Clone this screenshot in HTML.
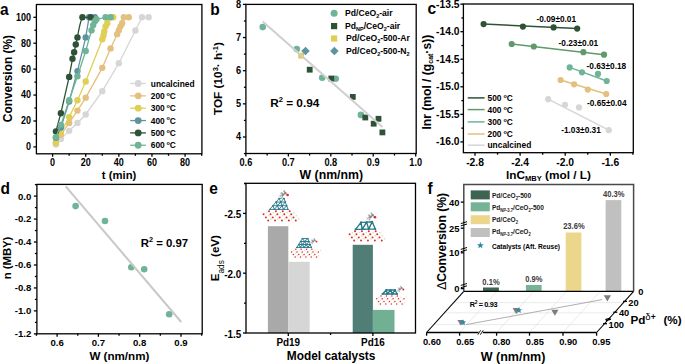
<!DOCTYPE html>
<html><head><meta charset="utf-8"><style>
html,body{margin:0;padding:0;background:#fff;}
svg{display:block;}
text{font-family:"Liberation Sans", sans-serif;}
</style></head><body>
<svg width="685" height="364" viewBox="0 0 685 364" font-family='"Liberation Sans", sans-serif'>
<rect width="685" height="364" fill="#fff"/>
<path d="M55.91,144.57 L60.88,139.12 L69.16,130.83 L77.44,122.92 L85.72,114.50 L102.28,91.17 L118.84,63.31 L135.40,30.52 L142.02,17.30 L148.65,17.30" fill="none" stroke="#d6d6d6" stroke-width="1.3"/>
<circle cx="55.91" cy="144.57" r="3.2" fill="#d6d6d6"/>
<circle cx="60.88" cy="139.12" r="3.2" fill="#d6d6d6"/>
<circle cx="69.16" cy="130.83" r="3.2" fill="#d6d6d6"/>
<circle cx="77.44" cy="122.92" r="3.2" fill="#d6d6d6"/>
<circle cx="85.72" cy="114.50" r="3.2" fill="#d6d6d6"/>
<circle cx="102.28" cy="91.17" r="3.2" fill="#d6d6d6"/>
<circle cx="118.84" cy="63.31" r="3.2" fill="#d6d6d6"/>
<circle cx="135.40" cy="30.52" r="3.2" fill="#d6d6d6"/>
<circle cx="142.02" cy="17.30" r="3.2" fill="#d6d6d6"/>
<circle cx="148.65" cy="17.30" r="3.2" fill="#d6d6d6"/>
<path d="M55.91,143.01 L60.88,134.59 L69.16,122.92 L77.44,110.61 L85.72,97.65 L102.28,67.84 L110.56,48.40 L117.18,34.15 L118.84,30.26 L120.50,26.37 L122.15,23.13 L123.81,17.30 L128.78,17.30" fill="none" stroke="#e4c07f" stroke-width="1.3"/>
<circle cx="55.91" cy="143.01" r="3.2" fill="#e4c07f"/>
<circle cx="60.88" cy="134.59" r="3.2" fill="#e4c07f"/>
<circle cx="69.16" cy="122.92" r="3.2" fill="#e4c07f"/>
<circle cx="77.44" cy="110.61" r="3.2" fill="#e4c07f"/>
<circle cx="85.72" cy="97.65" r="3.2" fill="#e4c07f"/>
<circle cx="102.28" cy="67.84" r="3.2" fill="#e4c07f"/>
<circle cx="110.56" cy="48.40" r="3.2" fill="#e4c07f"/>
<circle cx="117.18" cy="34.15" r="3.2" fill="#e4c07f"/>
<circle cx="118.84" cy="30.26" r="3.2" fill="#e4c07f"/>
<circle cx="120.50" cy="26.37" r="3.2" fill="#e4c07f"/>
<circle cx="122.15" cy="23.13" r="3.2" fill="#e4c07f"/>
<circle cx="123.81" cy="17.30" r="3.2" fill="#e4c07f"/>
<circle cx="128.78" cy="17.30" r="3.2" fill="#e4c07f"/>
<path d="M55.91,142.36 L60.88,132.64 L69.16,117.09 L77.44,100.24 L85.72,81.45 L102.28,39.33 L103.44,35.44 L104.27,31.56 L105.59,26.37 L107.25,23.13 L110.56,17.30 L113.21,17.30" fill="none" stroke="#e0cf55" stroke-width="1.3"/>
<circle cx="55.91" cy="142.36" r="3.2" fill="#e0cf55"/>
<circle cx="60.88" cy="132.64" r="3.2" fill="#e0cf55"/>
<circle cx="69.16" cy="117.09" r="3.2" fill="#e0cf55"/>
<circle cx="77.44" cy="100.24" r="3.2" fill="#e0cf55"/>
<circle cx="85.72" cy="81.45" r="3.2" fill="#e0cf55"/>
<circle cx="102.28" cy="39.33" r="3.2" fill="#e0cf55"/>
<circle cx="103.44" cy="35.44" r="3.2" fill="#e0cf55"/>
<circle cx="104.27" cy="31.56" r="3.2" fill="#e0cf55"/>
<circle cx="105.59" cy="26.37" r="3.2" fill="#e0cf55"/>
<circle cx="107.25" cy="23.13" r="3.2" fill="#e0cf55"/>
<circle cx="110.56" cy="17.30" r="3.2" fill="#e0cf55"/>
<circle cx="113.21" cy="17.30" r="3.2" fill="#e0cf55"/>
<path d="M55.91,137.83 L60.88,127.46 L69.16,101.54 L77.44,71.08 L85.72,37.39 L89.03,17.30 L94.83,17.30" fill="none" stroke="#5e93a0" stroke-width="1.3"/>
<circle cx="55.91" cy="137.83" r="3.2" fill="#5e93a0"/>
<circle cx="60.88" cy="127.46" r="3.2" fill="#5e93a0"/>
<circle cx="69.16" cy="101.54" r="3.2" fill="#5e93a0"/>
<circle cx="77.44" cy="71.08" r="3.2" fill="#5e93a0"/>
<circle cx="85.72" cy="37.39" r="3.2" fill="#5e93a0"/>
<circle cx="89.03" cy="17.30" r="3.2" fill="#5e93a0"/>
<circle cx="94.83" cy="17.30" r="3.2" fill="#5e93a0"/>
<path d="M55.91,131.35 L60.88,113.20 L69.16,76.92 L72.47,58.77 L74.13,52.29 L75.78,44.52 L77.44,37.39 Q79.92,22.48 82.41,17.30 L90.69,17.30" fill="none" stroke="#2f5237" stroke-width="1.3"/>
<circle cx="55.91" cy="131.35" r="3.2" fill="#2f5237"/>
<circle cx="60.88" cy="113.20" r="3.2" fill="#2f5237"/>
<circle cx="69.16" cy="76.92" r="3.2" fill="#2f5237"/>
<circle cx="72.47" cy="58.77" r="3.2" fill="#2f5237"/>
<circle cx="74.13" cy="52.29" r="3.2" fill="#2f5237"/>
<circle cx="75.78" cy="44.52" r="3.2" fill="#2f5237"/>
<circle cx="77.44" cy="37.39" r="3.2" fill="#2f5237"/>
<circle cx="82.41" cy="17.30" r="3.2" fill="#2f5237"/>
<circle cx="90.69" cy="17.30" r="3.2" fill="#2f5237"/>
<path d="M55.91,137.18 L60.88,124.87 L69.16,100.24 L77.44,76.27 L85.72,51.00 L91.52,30.26 L93.17,25.08 L94.83,21.19 L96.48,19.24 L105.59,17.30 L110.56,17.30" fill="none" stroke="#6fb497" stroke-width="1.3"/>
<circle cx="55.91" cy="137.18" r="3.2" fill="#6fb497"/>
<circle cx="60.88" cy="124.87" r="3.2" fill="#6fb497"/>
<circle cx="69.16" cy="100.24" r="3.2" fill="#6fb497"/>
<circle cx="77.44" cy="76.27" r="3.2" fill="#6fb497"/>
<circle cx="85.72" cy="51.00" r="3.2" fill="#6fb497"/>
<circle cx="91.52" cy="30.26" r="3.2" fill="#6fb497"/>
<circle cx="93.17" cy="25.08" r="3.2" fill="#6fb497"/>
<circle cx="94.83" cy="21.19" r="3.2" fill="#6fb497"/>
<circle cx="96.48" cy="19.24" r="3.2" fill="#6fb497"/>
<circle cx="105.59" cy="17.30" r="3.2" fill="#6fb497"/>
<circle cx="110.56" cy="17.30" r="3.2" fill="#6fb497"/>
<line x1="130.20" y1="83.50" x2="145.90" y2="83.50" stroke="#d6d6d6" stroke-width="1.3"/>
<circle cx="138.20" cy="83.50" r="3.4" fill="#d6d6d6"/>
<text x="150.80" y="86.60" font-size="8.4" text-anchor="start" font-weight="bold" fill="#000">uncalcined</text>
<line x1="130.20" y1="95.85" x2="145.90" y2="95.85" stroke="#e4c07f" stroke-width="1.3"/>
<circle cx="138.20" cy="95.85" r="3.4" fill="#e4c07f"/>
<text x="150.8" y="98.95" font-size="8.4" font-weight="bold">200<tspan font-size="5.5" dx="1.6" dy="-3.2">o</tspan><tspan dy="3.2">C</tspan></text>
<line x1="130.20" y1="108.20" x2="145.90" y2="108.20" stroke="#e0cf55" stroke-width="1.3"/>
<circle cx="138.20" cy="108.20" r="3.4" fill="#e0cf55"/>
<text x="150.8" y="111.30" font-size="8.4" font-weight="bold">300<tspan font-size="5.5" dx="1.6" dy="-3.2">o</tspan><tspan dy="3.2">C</tspan></text>
<line x1="130.20" y1="120.55" x2="145.90" y2="120.55" stroke="#5e93a0" stroke-width="1.3"/>
<circle cx="138.20" cy="120.55" r="3.4" fill="#5e93a0"/>
<text x="150.8" y="123.65" font-size="8.4" font-weight="bold">400<tspan font-size="5.5" dx="1.6" dy="-3.2">o</tspan><tspan dy="3.2">C</tspan></text>
<line x1="130.20" y1="132.90" x2="145.90" y2="132.90" stroke="#2f5237" stroke-width="1.3"/>
<circle cx="138.20" cy="132.90" r="3.4" fill="#2f5237"/>
<text x="150.8" y="136.00" font-size="8.4" font-weight="bold">500<tspan font-size="5.5" dx="1.6" dy="-3.2">o</tspan><tspan dy="3.2">C</tspan></text>
<line x1="130.20" y1="145.25" x2="145.90" y2="145.25" stroke="#6fb497" stroke-width="1.3"/>
<circle cx="138.20" cy="145.25" r="3.4" fill="#6fb497"/>
<text x="150.8" y="148.35" font-size="8.4" font-weight="bold">600<tspan font-size="5.5" dx="1.6" dy="-3.2">o</tspan><tspan dy="3.2">C</tspan></text>
<rect x="36.40" y="4.50" width="165.50" height="149.30" fill="none" stroke="#000" stroke-width="1.3"/>
<line x1="33.40" y1="146.90" x2="36.40" y2="146.90" stroke="#000" stroke-width="1.3"/>
<text transform="translate(31.00 150.30) scale(1 1.13)" font-size="9.0" text-anchor="end" font-weight="bold" fill="#000">0</text>
<line x1="34.40" y1="133.94" x2="36.40" y2="133.94" stroke="#000" stroke-width="1.3"/>
<line x1="33.40" y1="120.98" x2="36.40" y2="120.98" stroke="#000" stroke-width="1.3"/>
<text transform="translate(31.00 124.38) scale(1 1.13)" font-size="9.0" text-anchor="end" font-weight="bold" fill="#000">20</text>
<line x1="34.40" y1="108.02" x2="36.40" y2="108.02" stroke="#000" stroke-width="1.3"/>
<line x1="33.40" y1="95.06" x2="36.40" y2="95.06" stroke="#000" stroke-width="1.3"/>
<text transform="translate(31.00 98.46) scale(1 1.13)" font-size="9.0" text-anchor="end" font-weight="bold" fill="#000">40</text>
<line x1="34.40" y1="82.10" x2="36.40" y2="82.10" stroke="#000" stroke-width="1.3"/>
<line x1="33.40" y1="69.14" x2="36.40" y2="69.14" stroke="#000" stroke-width="1.3"/>
<text transform="translate(31.00 72.54) scale(1 1.13)" font-size="9.0" text-anchor="end" font-weight="bold" fill="#000">60</text>
<line x1="34.40" y1="56.18" x2="36.40" y2="56.18" stroke="#000" stroke-width="1.3"/>
<line x1="33.40" y1="43.22" x2="36.40" y2="43.22" stroke="#000" stroke-width="1.3"/>
<text transform="translate(31.00 46.62) scale(1 1.13)" font-size="9.0" text-anchor="end" font-weight="bold" fill="#000">80</text>
<line x1="34.40" y1="30.26" x2="36.40" y2="30.26" stroke="#000" stroke-width="1.3"/>
<line x1="33.40" y1="17.30" x2="36.40" y2="17.30" stroke="#000" stroke-width="1.3"/>
<text transform="translate(31.00 20.70) scale(1 1.13)" font-size="9.0" text-anchor="end" font-weight="bold" fill="#000">100</text>
<line x1="52.60" y1="153.80" x2="52.60" y2="156.80" stroke="#000" stroke-width="1.3"/>
<text transform="translate(52.60 166.20) scale(1 1.13)" font-size="9.0" text-anchor="middle" font-weight="bold" fill="#000">0</text>
<line x1="69.16" y1="153.80" x2="69.16" y2="155.80" stroke="#000" stroke-width="1.3"/>
<line x1="85.72" y1="153.80" x2="85.72" y2="156.80" stroke="#000" stroke-width="1.3"/>
<text transform="translate(85.72 166.20) scale(1 1.13)" font-size="9.0" text-anchor="middle" font-weight="bold" fill="#000">20</text>
<line x1="102.28" y1="153.80" x2="102.28" y2="155.80" stroke="#000" stroke-width="1.3"/>
<line x1="118.84" y1="153.80" x2="118.84" y2="156.80" stroke="#000" stroke-width="1.3"/>
<text transform="translate(118.84 166.20) scale(1 1.13)" font-size="9.0" text-anchor="middle" font-weight="bold" fill="#000">40</text>
<line x1="135.40" y1="153.80" x2="135.40" y2="155.80" stroke="#000" stroke-width="1.3"/>
<line x1="151.96" y1="153.80" x2="151.96" y2="156.80" stroke="#000" stroke-width="1.3"/>
<text transform="translate(151.96 166.20) scale(1 1.13)" font-size="9.0" text-anchor="middle" font-weight="bold" fill="#000">60</text>
<line x1="168.52" y1="153.80" x2="168.52" y2="155.80" stroke="#000" stroke-width="1.3"/>
<line x1="185.08" y1="153.80" x2="185.08" y2="156.80" stroke="#000" stroke-width="1.3"/>
<text transform="translate(185.08 166.20) scale(1 1.13)" font-size="9.0" text-anchor="middle" font-weight="bold" fill="#000">80</text>
<line x1="201.64" y1="153.80" x2="201.64" y2="155.80" stroke="#000" stroke-width="1.3"/>
<text x="119.10" y="178.80" font-size="11.3" text-anchor="middle" font-weight="bold" fill="#000">t (min)</text>
<text transform="translate(12.00 78.60) rotate(-90)" font-size="11.9" text-anchor="middle" font-weight="bold" fill="#000">Conversion (%)</text>
<text transform="translate(0.00 14.80) scale(1 1.1)" font-size="15.5" text-anchor="start" font-weight="bold" fill="#000">a</text>
<circle cx="262.70" cy="27.10" r="3.3" fill="#6fb497"/>
<circle cx="296.80" cy="49.10" r="3.3" fill="#6fb497"/>
<rect x="298.20" y="52.80" width="5.80" height="5.80" fill="#e0cf55"/>
<rect x="302.50" y="48.00" width="6" height="6" fill="#5e93a0" transform="rotate(45 305.5 51)"/>
<rect x="306.80" y="66.80" width="5.80" height="5.80" fill="#2f5237"/>
<circle cx="322.20" cy="77.80" r="3.3" fill="#6fb497"/>
<circle cx="335.70" cy="78.70" r="3.3" fill="#6fb497"/>
<rect x="328.40" y="75.60" width="5.80" height="5.80" fill="#2f5237"/>
<rect x="349.90" y="94.00" width="5.80" height="5.80" fill="#2f5237"/>
<circle cx="360.90" cy="114.90" r="3.3" fill="#6fb497"/>
<rect x="362.40" y="114.60" width="5.80" height="5.80" fill="#2f5237"/>
<rect x="375.60" y="115.90" width="5.80" height="5.80" fill="#2f5237"/>
<rect x="370.80" y="120.80" width="5.80" height="5.80" fill="#2f5237"/>
<rect x="379.50" y="129.50" width="5.80" height="5.80" fill="#2f5237"/>
<line x1="262.70" y1="21.40" x2="382.40" y2="126.90" stroke="#cfcfcf" stroke-width="2.0"/>
<circle cx="334.10" cy="13.30" r="3.5" fill="#6fb497"/>
<rect x="331.00" y="23.00" width="6.20" height="6.20" fill="#2f5237"/>
<rect x="331.00" y="35.40" width="6.20" height="6.20" fill="#e0cf55"/>
<rect x="331.40" y="48.10" width="6" height="6" fill="#5e93a0" transform="rotate(45 334.4 51.1)"/>
<text x="345.1" y="16.4" font-size="8.6" font-weight="bold">Pd/CeO<tspan font-size="5.5" dy="2">2</tspan><tspan dy="-2">-air</tspan></text>
<text x="345.1" y="29.2" font-size="8.6" font-weight="bold">Pd<tspan font-size="5.5" dy="2">NP</tspan><tspan dy="-2">/CeO</tspan><tspan font-size="5.5" dy="2">2</tspan><tspan dy="-2">-air</tspan></text>
<text x="346.1" y="41.3" font-size="8.6" font-weight="bold">Pd/CeO<tspan font-size="5.5" dy="2">2</tspan><tspan dy="-2">-500-Ar</tspan></text>
<text x="346.1" y="54.1" font-size="8.6" font-weight="bold">Pd/CeO<tspan font-size="5.5" dy="2">2</tspan><tspan dy="-2">-500-N</tspan><tspan font-size="5.5" dy="2">2</tspan><tspan dy="-2"></tspan></text>
<text x="270.2" y="107.4" font-size="11.8" font-weight="bold">R<tspan font-size="7.5" dy="-5.3">2</tspan><tspan dy="5.3"> = 0.94</tspan></text>
<rect x="245.90" y="4.40" width="170.30" height="149.10" fill="none" stroke="#000" stroke-width="1.3"/>
<line x1="243.90" y1="153.57" x2="245.90" y2="153.57" stroke="#000" stroke-width="1.3"/>
<line x1="242.90" y1="137.00" x2="245.90" y2="137.00" stroke="#000" stroke-width="1.3"/>
<text transform="translate(241.00 140.40) scale(1 1.12)" font-size="9.2" text-anchor="end" font-weight="bold" fill="#000">4</text>
<line x1="243.90" y1="120.42" x2="245.90" y2="120.42" stroke="#000" stroke-width="1.3"/>
<line x1="242.90" y1="103.85" x2="245.90" y2="103.85" stroke="#000" stroke-width="1.3"/>
<text transform="translate(241.00 107.25) scale(1 1.12)" font-size="9.2" text-anchor="end" font-weight="bold" fill="#000">5</text>
<line x1="243.90" y1="87.28" x2="245.90" y2="87.28" stroke="#000" stroke-width="1.3"/>
<line x1="242.90" y1="70.70" x2="245.90" y2="70.70" stroke="#000" stroke-width="1.3"/>
<text transform="translate(241.00 74.10) scale(1 1.12)" font-size="9.2" text-anchor="end" font-weight="bold" fill="#000">6</text>
<line x1="243.90" y1="54.12" x2="245.90" y2="54.12" stroke="#000" stroke-width="1.3"/>
<line x1="242.90" y1="37.55" x2="245.90" y2="37.55" stroke="#000" stroke-width="1.3"/>
<text transform="translate(241.00 40.95) scale(1 1.12)" font-size="9.2" text-anchor="end" font-weight="bold" fill="#000">7</text>
<line x1="243.90" y1="20.98" x2="245.90" y2="20.98" stroke="#000" stroke-width="1.3"/>
<line x1="242.90" y1="4.40" x2="245.90" y2="4.40" stroke="#000" stroke-width="1.3"/>
<text transform="translate(241.00 7.80) scale(1 1.12)" font-size="9.2" text-anchor="end" font-weight="bold" fill="#000">8</text>
<line x1="245.90" y1="153.50" x2="245.90" y2="156.50" stroke="#000" stroke-width="1.3"/>
<text transform="translate(245.90 166.20) scale(1 1.12)" font-size="9.2" text-anchor="middle" font-weight="bold" fill="#000">0.6</text>
<line x1="267.12" y1="153.50" x2="267.12" y2="155.50" stroke="#000" stroke-width="1.3"/>
<line x1="288.35" y1="153.50" x2="288.35" y2="156.50" stroke="#000" stroke-width="1.3"/>
<text transform="translate(288.35 166.20) scale(1 1.12)" font-size="9.2" text-anchor="middle" font-weight="bold" fill="#000">0.7</text>
<line x1="309.58" y1="153.50" x2="309.58" y2="155.50" stroke="#000" stroke-width="1.3"/>
<line x1="330.80" y1="153.50" x2="330.80" y2="156.50" stroke="#000" stroke-width="1.3"/>
<text transform="translate(330.80 166.20) scale(1 1.12)" font-size="9.2" text-anchor="middle" font-weight="bold" fill="#000">0.8</text>
<line x1="352.02" y1="153.50" x2="352.02" y2="155.50" stroke="#000" stroke-width="1.3"/>
<line x1="373.25" y1="153.50" x2="373.25" y2="156.50" stroke="#000" stroke-width="1.3"/>
<text transform="translate(373.25 166.20) scale(1 1.12)" font-size="9.2" text-anchor="middle" font-weight="bold" fill="#000">0.9</text>
<line x1="394.48" y1="153.50" x2="394.48" y2="155.50" stroke="#000" stroke-width="1.3"/>
<line x1="415.70" y1="153.50" x2="415.70" y2="156.50" stroke="#000" stroke-width="1.3"/>
<text transform="translate(415.70 166.20) scale(1 1.12)" font-size="9.2" text-anchor="middle" font-weight="bold" fill="#000">1.0</text>
<text x="331.30" y="179.00" font-size="12.3" text-anchor="middle" font-weight="bold" fill="#000">W (nm/nm)</text>
<text x="222.2" y="78.6" font-size="11.8" font-weight="bold" text-anchor="middle" transform="rotate(-90 222.2 78.6)">TOF (10<tspan font-size="7.5" dy="-4.5">3</tspan><tspan dy="4.5">· h</tspan><tspan font-size="7.5" dy="-4.5">-1</tspan><tspan dy="4.5">)</tspan></text>
<text transform="translate(210.30 14.80) scale(1 1.1)" font-size="15.5" text-anchor="start" font-weight="bold" fill="#000">b</text>
<line x1="483.60" y1="24.10" x2="577.20" y2="28.60" stroke="#2f5237" stroke-width="1.5"/>
<circle cx="483.60" cy="24.10" r="3.1" fill="#2f5237"/>
<circle cx="522.90" cy="26.60" r="3.1" fill="#2f5237"/>
<circle cx="553.60" cy="27.40" r="3.1" fill="#2f5237"/>
<circle cx="577.20" cy="28.60" r="3.1" fill="#2f5237"/>
<line x1="511.70" y1="44.00" x2="604.00" y2="54.70" stroke="#5e9a6c" stroke-width="1.5"/>
<circle cx="511.70" cy="44.00" r="3.1" fill="#5e9a6c"/>
<circle cx="533.80" cy="46.50" r="3.1" fill="#5e9a6c"/>
<circle cx="583.40" cy="52.20" r="3.1" fill="#5e9a6c"/>
<circle cx="604.00" cy="54.70" r="3.1" fill="#5e9a6c"/>
<line x1="569.70" y1="67.40" x2="606.70" y2="81.00" stroke="#6fb497" stroke-width="1.5"/>
<circle cx="569.70" cy="67.40" r="3.1" fill="#6fb497"/>
<circle cx="582.00" cy="72.30" r="3.1" fill="#6fb497"/>
<circle cx="598.00" cy="73.90" r="3.1" fill="#6fb497"/>
<circle cx="606.70" cy="81.00" r="3.1" fill="#6fb497"/>
<line x1="560.60" y1="80.00" x2="606.20" y2="94.00" stroke="#e4c07f" stroke-width="1.5"/>
<circle cx="560.60" cy="80.00" r="3.1" fill="#e4c07f"/>
<circle cx="574.10" cy="84.30" r="3.1" fill="#e4c07f"/>
<circle cx="587.80" cy="89.60" r="3.1" fill="#e4c07f"/>
<circle cx="606.20" cy="94.00" r="3.1" fill="#e4c07f"/>
<line x1="548.20" y1="99.20" x2="608.80" y2="130.20" stroke="#d6d6d6" stroke-width="1.5"/>
<circle cx="548.20" cy="99.20" r="3.1" fill="#d6d6d6"/>
<circle cx="565.00" cy="104.80" r="3.1" fill="#d6d6d6"/>
<circle cx="579.00" cy="107.40" r="3.1" fill="#d6d6d6"/>
<circle cx="608.80" cy="130.20" r="3.1" fill="#d6d6d6"/>
<text transform="translate(536.50 22.00) scale(1 1.07)" font-size="8.3" text-anchor="start" font-weight="bold" fill="#000">-0.09±0.01</text>
<text transform="translate(558.60 46.30) scale(1 1.07)" font-size="8.3" text-anchor="start" font-weight="bold" fill="#000">-0.23±0.01</text>
<text transform="translate(586.60 68.80) scale(1 1.07)" font-size="8.3" text-anchor="start" font-weight="bold" fill="#000">-0.63±0.18</text>
<text transform="translate(587.00 106.40) scale(1 1.07)" font-size="8.3" text-anchor="start" font-weight="bold" fill="#000">-0.65±0.04</text>
<text transform="translate(561.20 133.40) scale(1 1.07)" font-size="8.3" text-anchor="start" font-weight="bold" fill="#000">-1.03±0.31</text>
<line x1="467.70" y1="97.90" x2="484.60" y2="97.90" stroke="#2f5237" stroke-width="1.5"/>
<text x="487.5" y="101.00" font-size="8.4" font-weight="bold">500<tspan font-size="5.5" dx="1.9" dy="-3.2">o</tspan><tspan dy="3.2">C</tspan></text>
<line x1="467.70" y1="109.60" x2="484.60" y2="109.60" stroke="#5e9a6c" stroke-width="1.5"/>
<text x="487.5" y="112.70" font-size="8.4" font-weight="bold">400<tspan font-size="5.5" dx="1.9" dy="-3.2">o</tspan><tspan dy="3.2">C</tspan></text>
<line x1="467.70" y1="121.90" x2="484.60" y2="121.90" stroke="#6fb497" stroke-width="1.5"/>
<text x="487.5" y="125.00" font-size="8.4" font-weight="bold">300<tspan font-size="5.5" dx="1.9" dy="-3.2">o</tspan><tspan dy="3.2">C</tspan></text>
<line x1="467.70" y1="134.00" x2="484.60" y2="134.00" stroke="#e4c07f" stroke-width="1.5"/>
<text x="487.5" y="137.10" font-size="8.4" font-weight="bold">200<tspan font-size="5.5" dx="1.9" dy="-3.2">o</tspan><tspan dy="3.2">C</tspan></text>
<line x1="467.70" y1="145.20" x2="484.60" y2="145.20" stroke="#d6d6d6" stroke-width="1.5"/>
<text x="487.50" y="148.30" font-size="8.4" text-anchor="start" font-weight="bold" fill="#000">uncalcined</text>
<rect x="463.40" y="4.00" width="169.90" height="148.70" fill="none" stroke="#000" stroke-width="1.3"/>
<line x1="460.40" y1="4.15" x2="463.40" y2="4.15" stroke="#000" stroke-width="1.3"/>
<text x="459.50" y="7.65" font-size="10.3" text-anchor="end" font-weight="bold" fill="#000">-13.5</text>
<line x1="461.40" y1="17.95" x2="463.40" y2="17.95" stroke="#000" stroke-width="1.3"/>
<line x1="460.40" y1="31.70" x2="463.40" y2="31.70" stroke="#000" stroke-width="1.3"/>
<text x="459.50" y="35.20" font-size="10.3" text-anchor="end" font-weight="bold" fill="#000">-14.0</text>
<line x1="461.40" y1="45.50" x2="463.40" y2="45.50" stroke="#000" stroke-width="1.3"/>
<line x1="460.40" y1="59.25" x2="463.40" y2="59.25" stroke="#000" stroke-width="1.3"/>
<text x="459.50" y="62.75" font-size="10.3" text-anchor="end" font-weight="bold" fill="#000">-14.5</text>
<line x1="461.40" y1="73.05" x2="463.40" y2="73.05" stroke="#000" stroke-width="1.3"/>
<line x1="460.40" y1="86.80" x2="463.40" y2="86.80" stroke="#000" stroke-width="1.3"/>
<text x="459.50" y="90.30" font-size="10.3" text-anchor="end" font-weight="bold" fill="#000">-15.0</text>
<line x1="461.40" y1="100.60" x2="463.40" y2="100.60" stroke="#000" stroke-width="1.3"/>
<line x1="460.40" y1="114.35" x2="463.40" y2="114.35" stroke="#000" stroke-width="1.3"/>
<text x="459.50" y="117.85" font-size="10.3" text-anchor="end" font-weight="bold" fill="#000">-15.5</text>
<line x1="461.40" y1="128.15" x2="463.40" y2="128.15" stroke="#000" stroke-width="1.3"/>
<line x1="460.40" y1="141.90" x2="463.40" y2="141.90" stroke="#000" stroke-width="1.3"/>
<text x="459.50" y="145.40" font-size="10.3" text-anchor="end" font-weight="bold" fill="#000">-16.0</text>
<line x1="475.00" y1="152.70" x2="475.00" y2="155.70" stroke="#000" stroke-width="1.3"/>
<text x="475.00" y="165.50" font-size="10.3" text-anchor="middle" font-weight="bold" fill="#000">-2.8</text>
<line x1="497.55" y1="152.70" x2="497.55" y2="154.70" stroke="#000" stroke-width="1.3"/>
<line x1="520.10" y1="152.70" x2="520.10" y2="155.70" stroke="#000" stroke-width="1.3"/>
<text x="520.10" y="165.50" font-size="10.3" text-anchor="middle" font-weight="bold" fill="#000">-2.4</text>
<line x1="542.65" y1="152.70" x2="542.65" y2="154.70" stroke="#000" stroke-width="1.3"/>
<line x1="565.20" y1="152.70" x2="565.20" y2="155.70" stroke="#000" stroke-width="1.3"/>
<text x="565.20" y="165.50" font-size="10.3" text-anchor="middle" font-weight="bold" fill="#000">-2.0</text>
<line x1="587.75" y1="152.70" x2="587.75" y2="154.70" stroke="#000" stroke-width="1.3"/>
<line x1="610.30" y1="152.70" x2="610.30" y2="155.70" stroke="#000" stroke-width="1.3"/>
<text x="610.30" y="165.50" font-size="10.3" text-anchor="middle" font-weight="bold" fill="#000">-1.6</text>
<line x1="632.85" y1="152.70" x2="632.85" y2="154.70" stroke="#000" stroke-width="1.3"/>
<text x="548.5" y="178.5" font-size="11.8" font-weight="bold" text-anchor="middle">lnC<tspan font-size="7.5" dy="2.5">MBY</tspan><tspan dy="-2.5"> (mol / L)</tspan></text>
<text x="430.6" y="82.2" font-size="12.1" font-weight="bold" text-anchor="middle" transform="rotate(-90 430.6 82.2)">lnr (mol / (g<tspan font-size="7" dy="2.5">cat</tspan><tspan dy="-2.5">·s))</tspan></text>
<text transform="translate(427.50 14.40) scale(1 1.1)" font-size="15.5" text-anchor="start" font-weight="bold" fill="#000">c</text>
<circle cx="75.60" cy="206.10" r="3.3" fill="#6fb497"/>
<circle cx="105.00" cy="221.00" r="3.3" fill="#6fb497"/>
<circle cx="131.30" cy="267.30" r="3.3" fill="#6fb497"/>
<circle cx="144.20" cy="269.30" r="3.3" fill="#6fb497"/>
<circle cx="169.20" cy="314.20" r="3.3" fill="#6fb497"/>
<line x1="65.70" y1="186.30" x2="181.20" y2="322.00" stroke="#c8c8c8" stroke-width="2.0"/>
<text x="140.7" y="246.9" font-size="11.4" font-weight="bold">R<tspan font-size="7.3" dy="-5.1">2</tspan><tspan dy="5.1"> = 0.97</tspan></text>
<rect x="36.90" y="184.40" width="165.30" height="149.40" fill="none" stroke="#000" stroke-width="1.3"/>
<line x1="34.90" y1="184.62" x2="36.90" y2="184.62" stroke="#000" stroke-width="1.3"/>
<line x1="33.90" y1="196.10" x2="36.90" y2="196.10" stroke="#000" stroke-width="1.3"/>
<text transform="translate(31.30 199.50) scale(1 1.02)" font-size="9.6" text-anchor="end" font-weight="bold" fill="#000">0.0</text>
<line x1="34.90" y1="207.58" x2="36.90" y2="207.58" stroke="#000" stroke-width="1.3"/>
<line x1="33.90" y1="219.06" x2="36.90" y2="219.06" stroke="#000" stroke-width="1.3"/>
<text transform="translate(31.30 222.46) scale(1 1.02)" font-size="9.6" text-anchor="end" font-weight="bold" fill="#000">-0.2</text>
<line x1="34.90" y1="230.54" x2="36.90" y2="230.54" stroke="#000" stroke-width="1.3"/>
<line x1="33.90" y1="242.02" x2="36.90" y2="242.02" stroke="#000" stroke-width="1.3"/>
<text transform="translate(31.30 245.42) scale(1 1.02)" font-size="9.6" text-anchor="end" font-weight="bold" fill="#000">-0.4</text>
<line x1="34.90" y1="253.50" x2="36.90" y2="253.50" stroke="#000" stroke-width="1.3"/>
<line x1="33.90" y1="264.98" x2="36.90" y2="264.98" stroke="#000" stroke-width="1.3"/>
<text transform="translate(31.30 268.38) scale(1 1.02)" font-size="9.6" text-anchor="end" font-weight="bold" fill="#000">-0.6</text>
<line x1="34.90" y1="276.46" x2="36.90" y2="276.46" stroke="#000" stroke-width="1.3"/>
<line x1="33.90" y1="287.94" x2="36.90" y2="287.94" stroke="#000" stroke-width="1.3"/>
<text transform="translate(31.30 291.34) scale(1 1.02)" font-size="9.6" text-anchor="end" font-weight="bold" fill="#000">-0.8</text>
<line x1="34.90" y1="299.42" x2="36.90" y2="299.42" stroke="#000" stroke-width="1.3"/>
<line x1="33.90" y1="310.90" x2="36.90" y2="310.90" stroke="#000" stroke-width="1.3"/>
<text transform="translate(31.30 314.30) scale(1 1.02)" font-size="9.6" text-anchor="end" font-weight="bold" fill="#000">-1.0</text>
<line x1="34.90" y1="322.38" x2="36.90" y2="322.38" stroke="#000" stroke-width="1.3"/>
<line x1="33.90" y1="333.86" x2="36.90" y2="333.86" stroke="#000" stroke-width="1.3"/>
<text transform="translate(31.30 337.26) scale(1 1.02)" font-size="9.6" text-anchor="end" font-weight="bold" fill="#000">-1.2</text>
<line x1="36.45" y1="333.80" x2="36.45" y2="335.80" stroke="#000" stroke-width="1.3"/>
<line x1="57.10" y1="333.80" x2="57.10" y2="336.80" stroke="#000" stroke-width="1.3"/>
<text transform="translate(57.10 345.70) scale(1 1.02)" font-size="9.6" text-anchor="middle" font-weight="bold" fill="#000">0.6</text>
<line x1="77.75" y1="333.80" x2="77.75" y2="335.80" stroke="#000" stroke-width="1.3"/>
<line x1="98.40" y1="333.80" x2="98.40" y2="336.80" stroke="#000" stroke-width="1.3"/>
<text transform="translate(98.40 345.70) scale(1 1.02)" font-size="9.6" text-anchor="middle" font-weight="bold" fill="#000">0.7</text>
<line x1="119.05" y1="333.80" x2="119.05" y2="335.80" stroke="#000" stroke-width="1.3"/>
<line x1="139.70" y1="333.80" x2="139.70" y2="336.80" stroke="#000" stroke-width="1.3"/>
<text transform="translate(139.70 345.70) scale(1 1.02)" font-size="9.6" text-anchor="middle" font-weight="bold" fill="#000">0.8</text>
<line x1="160.35" y1="333.80" x2="160.35" y2="335.80" stroke="#000" stroke-width="1.3"/>
<line x1="181.00" y1="333.80" x2="181.00" y2="336.80" stroke="#000" stroke-width="1.3"/>
<text transform="translate(181.00 345.70) scale(1 1.02)" font-size="9.6" text-anchor="middle" font-weight="bold" fill="#000">0.9</text>
<line x1="201.65" y1="333.80" x2="201.65" y2="335.80" stroke="#000" stroke-width="1.3"/>
<text x="119.40" y="359.90" font-size="11.6" text-anchor="middle" font-weight="bold" fill="#000">W (nm/nm)</text>
<text transform="translate(10.70 258.00) rotate(-90)" font-size="11.3" text-anchor="middle" font-weight="bold" fill="#000">n (MBY)</text>
<text transform="translate(0.50 193.70) scale(1 1.1)" font-size="15.5" text-anchor="start" font-weight="bold" fill="#000">d</text>
<rect x="267.90" y="226.20" width="20.40" height="106.80" fill="#a9a9a9"/>
<rect x="288.30" y="261.80" width="21.40" height="71.20" fill="#d6d6d6"/>
<rect x="352.70" y="244.80" width="20.20" height="88.20" fill="#517d77"/>
<rect x="372.90" y="309.90" width="21.60" height="23.10" fill="#72b094"/>
<circle cx="266.52" cy="212.59" r="0.92" fill="#e6e2c0"/>
<circle cx="273.42" cy="212.59" r="0.92" fill="#e6e2c0"/>
<circle cx="280.32" cy="212.59" r="0.92" fill="#e6e2c0"/>
<circle cx="287.22" cy="212.59" r="0.92" fill="#e6e2c0"/>
<circle cx="294.12" cy="212.59" r="0.92" fill="#e6e2c0"/>
<circle cx="268.79" cy="215.69" r="0.92" fill="#e6e2c0"/>
<circle cx="275.69" cy="215.69" r="0.92" fill="#e6e2c0"/>
<circle cx="282.59" cy="215.69" r="0.92" fill="#e6e2c0"/>
<circle cx="289.49" cy="215.69" r="0.92" fill="#e6e2c0"/>
<circle cx="296.39" cy="215.69" r="0.92" fill="#e6e2c0"/>
<circle cx="271.07" cy="218.79" r="0.92" fill="#e6e2c0"/>
<circle cx="277.97" cy="218.79" r="0.92" fill="#e6e2c0"/>
<circle cx="284.87" cy="218.79" r="0.92" fill="#e6e2c0"/>
<circle cx="291.77" cy="218.79" r="0.92" fill="#e6e2c0"/>
<circle cx="298.67" cy="218.79" r="0.92" fill="#e6e2c0"/>
<circle cx="269.00" cy="211.20" r="0.97" fill="#e0262a"/>
<circle cx="275.90" cy="211.20" r="0.97" fill="#e0262a"/>
<circle cx="282.80" cy="211.20" r="0.97" fill="#e0262a"/>
<circle cx="289.70" cy="211.20" r="0.97" fill="#e0262a"/>
<circle cx="263.62" cy="214.30" r="0.97" fill="#e0262a"/>
<circle cx="270.52" cy="214.30" r="0.97" fill="#e0262a"/>
<circle cx="277.42" cy="214.30" r="0.97" fill="#e0262a"/>
<circle cx="284.32" cy="214.30" r="0.97" fill="#e0262a"/>
<circle cx="291.22" cy="214.30" r="0.97" fill="#e0262a"/>
<circle cx="265.89" cy="217.40" r="0.97" fill="#e0262a"/>
<circle cx="272.79" cy="217.40" r="0.97" fill="#e0262a"/>
<circle cx="279.69" cy="217.40" r="0.97" fill="#e0262a"/>
<circle cx="286.59" cy="217.40" r="0.97" fill="#e0262a"/>
<circle cx="293.50" cy="217.40" r="0.97" fill="#e0262a"/>
<circle cx="268.17" cy="220.50" r="0.97" fill="#e0262a"/>
<circle cx="275.07" cy="220.50" r="0.97" fill="#e0262a"/>
<circle cx="281.97" cy="220.50" r="0.97" fill="#e0262a"/>
<circle cx="288.87" cy="220.50" r="0.97" fill="#e0262a"/>
<circle cx="295.77" cy="220.50" r="0.97" fill="#e0262a"/>
<path d="M279.20,198.40 L284.00,198.40 M279.20,198.40 L276.07,202.07 M279.20,198.40 L280.70,202.07 M284.00,198.40 L280.70,202.07 M284.00,198.40 L285.33,202.07 M276.07,202.07 L280.70,202.07 M280.70,202.07 L285.33,202.07 M276.07,202.07 L272.93,205.73 M276.07,202.07 L277.51,205.73 M280.70,202.07 L277.51,205.73 M280.70,202.07 L282.09,205.73 M285.33,202.07 L282.09,205.73 M285.33,202.07 L286.67,205.73 M272.93,205.73 L277.51,205.73 M277.51,205.73 L282.09,205.73 M282.09,205.73 L286.67,205.73 M272.93,205.73 L269.80,209.40 M272.93,205.73 L274.35,209.40 M277.51,205.73 L274.35,209.40 M277.51,205.73 L278.90,209.40 M282.09,205.73 L278.90,209.40 M282.09,205.73 L283.45,209.40 M286.67,205.73 L283.45,209.40 M286.67,205.73 L288.00,209.40 M269.80,209.40 L274.35,209.40 M274.35,209.40 L278.90,209.40 M278.90,209.40 L283.45,209.40 M283.45,209.40 L288.00,209.40" stroke="#2b7a8a" stroke-width="0.95" fill="none" stroke-linecap="round"/>
<circle cx="279.20" cy="198.40" r="0.71" fill="#2b7a8a"/>
<circle cx="284.00" cy="198.40" r="0.71" fill="#2b7a8a"/>
<circle cx="276.07" cy="202.07" r="0.71" fill="#2b7a8a"/>
<circle cx="280.70" cy="202.07" r="0.71" fill="#2b7a8a"/>
<circle cx="285.33" cy="202.07" r="0.71" fill="#2b7a8a"/>
<circle cx="272.93" cy="205.73" r="0.71" fill="#2b7a8a"/>
<circle cx="277.51" cy="205.73" r="0.71" fill="#2b7a8a"/>
<circle cx="282.09" cy="205.73" r="0.71" fill="#2b7a8a"/>
<circle cx="286.67" cy="205.73" r="0.71" fill="#2b7a8a"/>
<circle cx="269.80" cy="209.40" r="0.71" fill="#2b7a8a"/>
<circle cx="274.35" cy="209.40" r="0.71" fill="#2b7a8a"/>
<circle cx="278.90" cy="209.40" r="0.71" fill="#2b7a8a"/>
<circle cx="283.45" cy="209.40" r="0.71" fill="#2b7a8a"/>
<circle cx="288.00" cy="209.40" r="0.71" fill="#2b7a8a"/>
<g transform="translate(283.20 194.60) scale(1.0)"><circle cx="-3.2" cy="1.6" r="1.6" fill="#e6e6e6"/><circle cx="-1.2" cy="3" r="1.3" fill="#dedede"/><circle cx="-1.6" cy="-1.4" r="1.2" fill="#c4c4c4"/><circle cx="1" cy="-3.4" r="1.1" fill="#c0c0c0"/><circle cx="0" cy="0" r="1.4" fill="#a3a3a3"/><circle cx="2.1" cy="-1.5" r="1.3" fill="#9c9c9c"/><path d="M-3.2,1.6 L0,0 L2.1,-1.5 L4.4,0.4 M0,0 L-1.6,-1.4 M2.1,-1.5 L1,-3.4 M0,0 L-1.2,3" stroke="#6e6e6e" stroke-width="0.6" fill="none"/><circle cx="4.4" cy="0.4" r="1.3" fill="#e0262a"/></g>
<circle cx="293.87" cy="250.47" r="0.71" fill="#e6e2c0"/>
<circle cx="299.22" cy="250.47" r="0.71" fill="#e6e2c0"/>
<circle cx="304.57" cy="250.47" r="0.71" fill="#e6e2c0"/>
<circle cx="309.92" cy="250.47" r="0.71" fill="#e6e2c0"/>
<circle cx="315.27" cy="250.47" r="0.71" fill="#e6e2c0"/>
<circle cx="320.62" cy="250.47" r="0.71" fill="#e6e2c0"/>
<circle cx="295.64" cy="253.07" r="0.71" fill="#e6e2c0"/>
<circle cx="300.99" cy="253.07" r="0.71" fill="#e6e2c0"/>
<circle cx="306.34" cy="253.07" r="0.71" fill="#e6e2c0"/>
<circle cx="311.69" cy="253.07" r="0.71" fill="#e6e2c0"/>
<circle cx="317.04" cy="253.07" r="0.71" fill="#e6e2c0"/>
<circle cx="297.41" cy="255.67" r="0.71" fill="#e6e2c0"/>
<circle cx="302.76" cy="255.67" r="0.71" fill="#e6e2c0"/>
<circle cx="308.11" cy="255.67" r="0.71" fill="#e6e2c0"/>
<circle cx="313.46" cy="255.67" r="0.71" fill="#e6e2c0"/>
<circle cx="318.81" cy="255.67" r="0.71" fill="#e6e2c0"/>
<circle cx="295.80" cy="249.30" r="0.75" fill="#e0262a"/>
<circle cx="301.15" cy="249.30" r="0.75" fill="#e0262a"/>
<circle cx="306.50" cy="249.30" r="0.75" fill="#e0262a"/>
<circle cx="311.85" cy="249.30" r="0.75" fill="#e0262a"/>
<circle cx="291.63" cy="251.90" r="0.75" fill="#e0262a"/>
<circle cx="296.98" cy="251.90" r="0.75" fill="#e0262a"/>
<circle cx="302.33" cy="251.90" r="0.75" fill="#e0262a"/>
<circle cx="307.68" cy="251.90" r="0.75" fill="#e0262a"/>
<circle cx="313.03" cy="251.90" r="0.75" fill="#e0262a"/>
<circle cx="318.38" cy="251.90" r="0.75" fill="#e0262a"/>
<circle cx="293.39" cy="254.50" r="0.75" fill="#e0262a"/>
<circle cx="298.74" cy="254.50" r="0.75" fill="#e0262a"/>
<circle cx="304.09" cy="254.50" r="0.75" fill="#e0262a"/>
<circle cx="309.44" cy="254.50" r="0.75" fill="#e0262a"/>
<circle cx="314.79" cy="254.50" r="0.75" fill="#e0262a"/>
<circle cx="295.16" cy="257.10" r="0.75" fill="#e0262a"/>
<circle cx="300.51" cy="257.10" r="0.75" fill="#e0262a"/>
<circle cx="305.86" cy="257.10" r="0.75" fill="#e0262a"/>
<circle cx="311.21" cy="257.10" r="0.75" fill="#e0262a"/>
<circle cx="316.56" cy="257.10" r="0.75" fill="#e0262a"/>
<path d="M302.40,238.60 L307.80,238.60 M302.40,238.60 L300.53,241.53 M302.40,238.60 L304.77,241.53 M307.80,238.60 L304.77,241.53 M307.80,238.60 L309.00,241.53 M300.53,241.53 L304.77,241.53 M304.77,241.53 L309.00,241.53 M300.53,241.53 L298.67,244.47 M300.53,241.53 L302.51,244.47 M304.77,241.53 L302.51,244.47 M304.77,241.53 L306.36,244.47 M309.00,241.53 L306.36,244.47 M309.00,241.53 L310.20,244.47 M298.67,244.47 L302.51,244.47 M302.51,244.47 L306.36,244.47 M306.36,244.47 L310.20,244.47 M298.67,244.47 L296.80,247.40 M298.67,244.47 L300.45,247.40 M302.51,244.47 L300.45,247.40 M302.51,244.47 L304.10,247.40 M306.36,244.47 L304.10,247.40 M306.36,244.47 L307.75,247.40 M310.20,244.47 L307.75,247.40 M310.20,244.47 L311.40,247.40 M296.80,247.40 L300.45,247.40 M300.45,247.40 L304.10,247.40 M304.10,247.40 L307.75,247.40 M307.75,247.40 L311.40,247.40" stroke="#2b7a8a" stroke-width="1.0" fill="none" stroke-linecap="round"/>
<circle cx="302.40" cy="238.60" r="0.75" fill="#2b7a8a"/>
<circle cx="307.80" cy="238.60" r="0.75" fill="#2b7a8a"/>
<circle cx="300.53" cy="241.53" r="0.75" fill="#2b7a8a"/>
<circle cx="304.77" cy="241.53" r="0.75" fill="#2b7a8a"/>
<circle cx="309.00" cy="241.53" r="0.75" fill="#2b7a8a"/>
<circle cx="298.67" cy="244.47" r="0.75" fill="#2b7a8a"/>
<circle cx="302.51" cy="244.47" r="0.75" fill="#2b7a8a"/>
<circle cx="306.36" cy="244.47" r="0.75" fill="#2b7a8a"/>
<circle cx="310.20" cy="244.47" r="0.75" fill="#2b7a8a"/>
<circle cx="296.80" cy="247.40" r="0.75" fill="#2b7a8a"/>
<circle cx="300.45" cy="247.40" r="0.75" fill="#2b7a8a"/>
<circle cx="304.10" cy="247.40" r="0.75" fill="#2b7a8a"/>
<circle cx="307.75" cy="247.40" r="0.75" fill="#2b7a8a"/>
<circle cx="311.40" cy="247.40" r="0.75" fill="#2b7a8a"/>
<g transform="translate(313.20 241.30) scale(0.75)"><circle cx="-3.2" cy="1.6" r="1.6" fill="#e6e6e6"/><circle cx="-1.2" cy="3" r="1.3" fill="#dedede"/><circle cx="-1.6" cy="-1.4" r="1.2" fill="#c4c4c4"/><circle cx="1" cy="-3.4" r="1.1" fill="#c0c0c0"/><circle cx="0" cy="0" r="1.4" fill="#a3a3a3"/><circle cx="2.1" cy="-1.5" r="1.3" fill="#9c9c9c"/><path d="M-3.2,1.6 L0,0 L2.1,-1.5 L4.4,0.4 M0,0 L-1.6,-1.4 M2.1,-1.5 L1,-3.4 M0,0 L-1.2,3" stroke="#6e6e6e" stroke-width="0.6" fill="none"/><circle cx="4.4" cy="0.4" r="1.3" fill="#e0262a"/></g>
<circle cx="352.52" cy="232.59" r="0.92" fill="#e6e2c0"/>
<circle cx="359.42" cy="232.59" r="0.92" fill="#e6e2c0"/>
<circle cx="366.32" cy="232.59" r="0.92" fill="#e6e2c0"/>
<circle cx="373.22" cy="232.59" r="0.92" fill="#e6e2c0"/>
<circle cx="380.12" cy="232.59" r="0.92" fill="#e6e2c0"/>
<circle cx="354.79" cy="235.69" r="0.92" fill="#e6e2c0"/>
<circle cx="361.69" cy="235.69" r="0.92" fill="#e6e2c0"/>
<circle cx="368.59" cy="235.69" r="0.92" fill="#e6e2c0"/>
<circle cx="375.49" cy="235.69" r="0.92" fill="#e6e2c0"/>
<circle cx="382.39" cy="235.69" r="0.92" fill="#e6e2c0"/>
<circle cx="357.07" cy="238.79" r="0.92" fill="#e6e2c0"/>
<circle cx="363.97" cy="238.79" r="0.92" fill="#e6e2c0"/>
<circle cx="370.87" cy="238.79" r="0.92" fill="#e6e2c0"/>
<circle cx="377.77" cy="238.79" r="0.92" fill="#e6e2c0"/>
<circle cx="384.67" cy="238.79" r="0.92" fill="#e6e2c0"/>
<circle cx="355.00" cy="231.20" r="0.97" fill="#e0262a"/>
<circle cx="361.90" cy="231.20" r="0.97" fill="#e0262a"/>
<circle cx="368.80" cy="231.20" r="0.97" fill="#e0262a"/>
<circle cx="375.70" cy="231.20" r="0.97" fill="#e0262a"/>
<circle cx="349.62" cy="234.30" r="0.97" fill="#e0262a"/>
<circle cx="356.52" cy="234.30" r="0.97" fill="#e0262a"/>
<circle cx="363.42" cy="234.30" r="0.97" fill="#e0262a"/>
<circle cx="370.32" cy="234.30" r="0.97" fill="#e0262a"/>
<circle cx="377.22" cy="234.30" r="0.97" fill="#e0262a"/>
<circle cx="351.89" cy="237.40" r="0.97" fill="#e0262a"/>
<circle cx="358.79" cy="237.40" r="0.97" fill="#e0262a"/>
<circle cx="365.69" cy="237.40" r="0.97" fill="#e0262a"/>
<circle cx="372.59" cy="237.40" r="0.97" fill="#e0262a"/>
<circle cx="379.50" cy="237.40" r="0.97" fill="#e0262a"/>
<circle cx="354.17" cy="240.50" r="0.97" fill="#e0262a"/>
<circle cx="361.07" cy="240.50" r="0.97" fill="#e0262a"/>
<circle cx="367.97" cy="240.50" r="0.97" fill="#e0262a"/>
<circle cx="374.87" cy="240.50" r="0.97" fill="#e0262a"/>
<circle cx="381.77" cy="240.50" r="0.97" fill="#e0262a"/>
<path d="M361.00,222.40 L366.60,222.10 M366.60,222.10 L372.20,221.80 M361.00,222.40 L355.60,229.40 M361.00,222.40 L362.17,229.27 M366.60,222.10 L362.17,229.27 M366.60,222.10 L368.73,229.13 M372.20,221.80 L368.73,229.13 M372.20,221.80 L375.30,229.00 M355.60,229.40 L362.17,229.27 M362.17,229.27 L368.73,229.13 M368.73,229.13 L375.30,229.00" stroke="#2b7a8a" stroke-width="1.4" fill="none" stroke-linecap="round"/>
<circle cx="361.00" cy="222.40" r="1.05" fill="#2b7a8a"/>
<circle cx="366.60" cy="222.10" r="1.05" fill="#2b7a8a"/>
<circle cx="372.20" cy="221.80" r="1.05" fill="#2b7a8a"/>
<circle cx="355.60" cy="229.40" r="1.05" fill="#2b7a8a"/>
<circle cx="362.17" cy="229.27" r="1.05" fill="#2b7a8a"/>
<circle cx="368.73" cy="229.13" r="1.05" fill="#2b7a8a"/>
<circle cx="375.30" cy="229.00" r="1.05" fill="#2b7a8a"/>
<g transform="translate(370.60 216.80) scale(1.0)"><circle cx="-3.2" cy="1.6" r="1.6" fill="#e6e6e6"/><circle cx="-1.2" cy="3" r="1.3" fill="#dedede"/><circle cx="-1.6" cy="-1.4" r="1.2" fill="#c4c4c4"/><circle cx="1" cy="-3.4" r="1.1" fill="#c0c0c0"/><circle cx="0" cy="0" r="1.4" fill="#a3a3a3"/><circle cx="2.1" cy="-1.5" r="1.3" fill="#9c9c9c"/><path d="M-3.2,1.6 L0,0 L2.1,-1.5 L4.4,0.4 M0,0 L-1.6,-1.4 M2.1,-1.5 L1,-3.4 M0,0 L-1.2,3" stroke="#6e6e6e" stroke-width="0.6" fill="none"/><circle cx="4.4" cy="0.4" r="1.3" fill="#e0262a"/></g>
<circle cx="379.04" cy="297.21" r="0.72" fill="#e6e2c0"/>
<circle cx="384.49" cy="297.21" r="0.72" fill="#e6e2c0"/>
<circle cx="389.94" cy="297.21" r="0.72" fill="#e6e2c0"/>
<circle cx="395.39" cy="297.21" r="0.72" fill="#e6e2c0"/>
<circle cx="400.84" cy="297.21" r="0.72" fill="#e6e2c0"/>
<circle cx="406.29" cy="297.21" r="0.72" fill="#e6e2c0"/>
<circle cx="380.84" cy="299.91" r="0.72" fill="#e6e2c0"/>
<circle cx="386.29" cy="299.91" r="0.72" fill="#e6e2c0"/>
<circle cx="391.74" cy="299.91" r="0.72" fill="#e6e2c0"/>
<circle cx="397.19" cy="299.91" r="0.72" fill="#e6e2c0"/>
<circle cx="402.64" cy="299.91" r="0.72" fill="#e6e2c0"/>
<circle cx="382.63" cy="302.62" r="0.72" fill="#e6e2c0"/>
<circle cx="388.08" cy="302.62" r="0.72" fill="#e6e2c0"/>
<circle cx="393.53" cy="302.62" r="0.72" fill="#e6e2c0"/>
<circle cx="398.99" cy="302.62" r="0.72" fill="#e6e2c0"/>
<circle cx="404.44" cy="302.62" r="0.72" fill="#e6e2c0"/>
<circle cx="381.00" cy="296.00" r="0.76" fill="#e0262a"/>
<circle cx="386.45" cy="296.00" r="0.76" fill="#e0262a"/>
<circle cx="391.90" cy="296.00" r="0.76" fill="#e0262a"/>
<circle cx="397.35" cy="296.00" r="0.76" fill="#e0262a"/>
<circle cx="376.75" cy="298.70" r="0.76" fill="#e0262a"/>
<circle cx="382.20" cy="298.70" r="0.76" fill="#e0262a"/>
<circle cx="387.65" cy="298.70" r="0.76" fill="#e0262a"/>
<circle cx="393.10" cy="298.70" r="0.76" fill="#e0262a"/>
<circle cx="398.55" cy="298.70" r="0.76" fill="#e0262a"/>
<circle cx="404.00" cy="298.70" r="0.76" fill="#e0262a"/>
<circle cx="378.55" cy="301.40" r="0.76" fill="#e0262a"/>
<circle cx="384.00" cy="301.40" r="0.76" fill="#e0262a"/>
<circle cx="389.45" cy="301.40" r="0.76" fill="#e0262a"/>
<circle cx="394.90" cy="301.40" r="0.76" fill="#e0262a"/>
<circle cx="400.35" cy="301.40" r="0.76" fill="#e0262a"/>
<circle cx="380.35" cy="304.10" r="0.76" fill="#e0262a"/>
<circle cx="385.80" cy="304.10" r="0.76" fill="#e0262a"/>
<circle cx="391.25" cy="304.10" r="0.76" fill="#e0262a"/>
<circle cx="396.70" cy="304.10" r="0.76" fill="#e0262a"/>
<circle cx="402.15" cy="304.10" r="0.76" fill="#e0262a"/>
<path d="M386.20,290.00 L390.65,290.00 M390.65,290.00 L395.10,290.00 M386.20,290.00 L382.50,294.00 M386.20,290.00 L387.37,294.00 M390.65,290.00 L387.37,294.00 M390.65,290.00 L392.23,294.00 M395.10,290.00 L392.23,294.00 M395.10,290.00 L397.10,294.00 M382.50,294.00 L387.37,294.00 M387.37,294.00 L392.23,294.00 M392.23,294.00 L397.10,294.00" stroke="#2b7a8a" stroke-width="1.3" fill="none" stroke-linecap="round"/>
<circle cx="386.20" cy="290.00" r="0.98" fill="#2b7a8a"/>
<circle cx="390.65" cy="290.00" r="0.98" fill="#2b7a8a"/>
<circle cx="395.10" cy="290.00" r="0.98" fill="#2b7a8a"/>
<circle cx="382.50" cy="294.00" r="0.98" fill="#2b7a8a"/>
<circle cx="387.37" cy="294.00" r="0.98" fill="#2b7a8a"/>
<circle cx="392.23" cy="294.00" r="0.98" fill="#2b7a8a"/>
<circle cx="397.10" cy="294.00" r="0.98" fill="#2b7a8a"/>
<g transform="translate(400.00 289.20) scale(0.75)"><circle cx="-3.2" cy="1.6" r="1.6" fill="#e6e6e6"/><circle cx="-1.2" cy="3" r="1.3" fill="#dedede"/><circle cx="-1.6" cy="-1.4" r="1.2" fill="#c4c4c4"/><circle cx="1" cy="-3.4" r="1.1" fill="#c0c0c0"/><circle cx="0" cy="0" r="1.4" fill="#a3a3a3"/><circle cx="2.1" cy="-1.5" r="1.3" fill="#9c9c9c"/><path d="M-3.2,1.6 L0,0 L2.1,-1.5 L4.4,0.4 M0,0 L-1.6,-1.4 M2.1,-1.5 L1,-3.4 M0,0 L-1.2,3" stroke="#6e6e6e" stroke-width="0.6" fill="none"/><circle cx="4.4" cy="0.4" r="1.3" fill="#e0262a"/></g>
<rect x="246.00" y="183.30" width="169.50" height="149.70" fill="none" stroke="#000" stroke-width="1.3"/>
<line x1="244.00" y1="183.50" x2="246.00" y2="183.50" stroke="#000" stroke-width="1.3"/>
<line x1="243.00" y1="213.40" x2="246.00" y2="213.40" stroke="#000" stroke-width="1.3"/>
<text transform="translate(241.20 217.90) scale(1 1.05)" font-size="9.9" text-anchor="end" font-weight="bold" fill="#000">-2.5</text>
<line x1="244.00" y1="243.30" x2="246.00" y2="243.30" stroke="#000" stroke-width="1.3"/>
<line x1="243.00" y1="273.20" x2="246.00" y2="273.20" stroke="#000" stroke-width="1.3"/>
<text transform="translate(241.20 277.70) scale(1 1.05)" font-size="9.9" text-anchor="end" font-weight="bold" fill="#000">-2.0</text>
<line x1="244.00" y1="303.10" x2="246.00" y2="303.10" stroke="#000" stroke-width="1.3"/>
<line x1="243.00" y1="333.00" x2="246.00" y2="333.00" stroke="#000" stroke-width="1.3"/>
<text transform="translate(241.20 337.50) scale(1 1.05)" font-size="9.9" text-anchor="end" font-weight="bold" fill="#000">-1.5</text>
<line x1="288.30" y1="333.00" x2="288.30" y2="336.00" stroke="#000" stroke-width="1.3"/>
<text transform="translate(288.30 345.70) scale(1 1.05)" font-size="9.9" text-anchor="middle" font-weight="bold" fill="#000">Pd19</text>
<line x1="372.90" y1="333.00" x2="372.90" y2="336.00" stroke="#000" stroke-width="1.3"/>
<text transform="translate(372.90 345.70) scale(1 1.05)" font-size="9.9" text-anchor="middle" font-weight="bold" fill="#000">Pd16</text>
<line x1="330.60" y1="333.00" x2="330.60" y2="335.00" stroke="#000" stroke-width="1.3"/>
<text x="331.10" y="359.60" font-size="11.9" text-anchor="middle" font-weight="bold" fill="#000">Model catalysts</text>
<text x="219.5" y="258.2" font-size="11.6" font-weight="bold" text-anchor="middle" transform="rotate(-90 219.5 258.2)">E<tspan font-size="8.3" font-weight="normal" dy="4.2">ads</tspan><tspan dy="-4.2"> (eV)</tspan></text>
<text transform="translate(209.30 194.30) scale(1 1.1)" font-size="15.5" text-anchor="start" font-weight="bold" fill="#000">e</text>
<line x1="453.60" y1="302.60" x2="623.60" y2="302.60" stroke="#dcdcdc" stroke-width="0.6"/>
<line x1="444.39" y1="312.80" x2="614.39" y2="312.80" stroke="#dcdcdc" stroke-width="0.6"/>
<line x1="433.73" y1="324.60" x2="603.73" y2="324.60" stroke="#dcdcdc" stroke-width="0.6"/>
<line x1="459.60" y1="332.50" x2="496.80" y2="291.30" stroke="#dcdcdc" stroke-width="0.6"/>
<line x1="496.60" y1="332.50" x2="533.80" y2="291.30" stroke="#dcdcdc" stroke-width="0.6"/>
<line x1="529.50" y1="332.50" x2="566.70" y2="291.30" stroke="#dcdcdc" stroke-width="0.6"/>
<line x1="563.00" y1="332.50" x2="600.20" y2="291.30" stroke="#dcdcdc" stroke-width="0.6"/>
<rect x="483.00" y="287.50" width="15.90" height="3.80" fill="#3d6351"/>
<rect x="525.90" y="285.00" width="15.70" height="6.30" fill="#74b396"/>
<rect x="565.70" y="232.50" width="15.70" height="58.80" fill="#ecd68c"/>
<rect x="605.60" y="200.10" width="15.70" height="91.20" fill="#c0c0c0"/>
<text transform="translate(491.00 284.50) scale(1 1.18)" font-size="7.6" text-anchor="middle" font-weight="bold" fill="#3c3c3c">0.1%</text>
<text transform="translate(533.90 281.70) scale(1 1.18)" font-size="7.6" text-anchor="middle" font-weight="bold" fill="#3c3c3c">0.9%</text>
<text transform="translate(573.90 228.70) scale(1 1.18)" font-size="7.6" text-anchor="middle" font-weight="bold" fill="#3c3c3c">23.6%</text>
<text transform="translate(613.80 196.90) scale(1 1.18)" font-size="7.6" text-anchor="middle" font-weight="bold" fill="#3c3c3c">40.3%</text>
<line x1="466.00" y1="324.60" x2="602.30" y2="299.60" stroke="#9a9a9a" stroke-width="0.8"/>
<path d="M457.40,320.04 L463.80,320.04 L460.60,325.48Z" fill="#7d7d7d"/>
<path d="M512.60,308.12 L519.80,308.12 L516.20,314.24Z" fill="#7d7d7d"/>
<path d="M551.30,309.72 L558.50,309.72 L554.90,315.84Z" fill="#7d7d7d"/>
<path d="M603.80,295.32 L611.00,295.32 L607.40,301.44Z" fill="#7d7d7d"/>
<polygon points="463.00,319.20 463.90,321.36 466.23,321.55 464.46,323.07 465.00,325.35 463.00,324.13 461.00,325.35 461.54,323.07 459.77,321.55 462.10,321.36" fill="#2f8aa8"/>
<polygon points="519.00,307.10 519.85,309.14 522.04,309.31 520.37,310.74 520.88,312.89 519.00,311.74 517.12,312.89 517.63,310.74 515.96,309.31 518.15,309.14" fill="#2f8aa8"/>
<text x="469.8" y="306.6" font-size="7.3" font-weight="bold" letter-spacing="-0.35">R<tspan font-size="4.8" dy="-2.8">2</tspan><tspan dy="2.8"> = 0.93</tspan></text>
<line x1="463.80" y1="291.30" x2="633.60" y2="291.30" stroke="#000" stroke-width="1.3"/>
<line x1="426.60" y1="332.50" x2="596.60" y2="332.50" stroke="#000" stroke-width="1.3"/>
<line x1="463.80" y1="291.30" x2="426.60" y2="332.50" stroke="#000" stroke-width="1.1"/>
<line x1="633.60" y1="291.30" x2="596.60" y2="332.50" stroke="#000" stroke-width="1.1"/>
<path d="M463.8,291.3 L463.8,184.6 L633.6,184.6 L633.6,291.3" fill="none" stroke="#4a4a4a" stroke-width="1.5"/>
<line x1="460.80" y1="202.10" x2="463.80" y2="202.10" stroke="#000" stroke-width="1.3"/>
<text transform="translate(459.50 205.50) scale(1 1.03)" font-size="9.4" text-anchor="end" font-weight="bold" fill="#000">40</text>
<line x1="460.80" y1="228.20" x2="463.80" y2="228.20" stroke="#000" stroke-width="1.3"/>
<text transform="translate(459.50 231.60) scale(1 1.03)" font-size="9.4" text-anchor="end" font-weight="bold" fill="#000">25</text>
<line x1="460.80" y1="252.80" x2="463.80" y2="252.80" stroke="#000" stroke-width="1.3"/>
<text transform="translate(459.50 256.20) scale(1 1.03)" font-size="9.4" text-anchor="end" font-weight="bold" fill="#000">10</text>
<line x1="460.80" y1="288.60" x2="463.80" y2="288.60" stroke="#000" stroke-width="1.3"/>
<text transform="translate(459.50 292.00) scale(1 1.03)" font-size="9.4" text-anchor="end" font-weight="bold" fill="#000">0</text>
<path d="M460.80,223.60 L467.00,221.70 M460.80,225.90 L467.00,224.00" stroke="#000" stroke-width="1.0" fill="none"/>
<path d="M460.80,249.40 L467.00,247.50 M460.80,251.70 L467.00,249.80" stroke="#000" stroke-width="1.0" fill="none"/>
<path d="M460.80,285.40 L467.00,283.50 M460.80,287.70 L467.00,285.80" stroke="#000" stroke-width="1.0" fill="none"/>
<line x1="426.60" y1="332.50" x2="426.60" y2="335.70" stroke="#000" stroke-width="1.3"/>
<text x="432.00" y="345.20" font-size="9.3" text-anchor="middle" font-weight="bold" fill="#000">0.60</text>
<line x1="459.60" y1="332.50" x2="459.60" y2="335.70" stroke="#000" stroke-width="1.3"/>
<text x="465.20" y="345.20" font-size="9.3" text-anchor="middle" font-weight="bold" fill="#000">0.65</text>
<line x1="496.60" y1="332.50" x2="496.60" y2="335.70" stroke="#000" stroke-width="1.3"/>
<text x="501.50" y="345.20" font-size="9.3" text-anchor="middle" font-weight="bold" fill="#000">0.80</text>
<line x1="529.50" y1="332.50" x2="529.50" y2="335.70" stroke="#000" stroke-width="1.3"/>
<text x="534.90" y="345.20" font-size="9.3" text-anchor="middle" font-weight="bold" fill="#000">0.85</text>
<line x1="563.00" y1="332.50" x2="563.00" y2="335.70" stroke="#000" stroke-width="1.3"/>
<text x="568.20" y="345.20" font-size="9.3" text-anchor="middle" font-weight="bold" fill="#000">0.90</text>
<line x1="596.60" y1="332.50" x2="596.60" y2="335.70" stroke="#000" stroke-width="1.3"/>
<text x="601.40" y="345.20" font-size="9.3" text-anchor="middle" font-weight="bold" fill="#000">0.95</text>
<rect x="478.5" y="331.30" width="4.5" height="2.4" fill="#fff"/>
<line x1="477.80" y1="334.70" x2="480.60" y2="330.30" stroke="#000" stroke-width="0.9"/>
<line x1="480.40" y1="334.70" x2="483.20" y2="330.30" stroke="#000" stroke-width="0.9"/>
<text x="638.20" y="294.50" font-size="9.3" text-anchor="start" font-weight="bold" fill="#000">0</text>
<line x1="623.03" y1="301.40" x2="627.03" y2="301.40" stroke="#000" stroke-width="1.3"/>
<text x="628.30" y="305.60" font-size="9.3" text-anchor="start" font-weight="bold" fill="#000">20</text>
<line x1="613.33" y1="312.20" x2="617.33" y2="312.20" stroke="#000" stroke-width="1.3"/>
<text x="618.90" y="316.00" font-size="9.3" text-anchor="start" font-weight="bold" fill="#000">40</text>
<line x1="603.00" y1="323.70" x2="607.00" y2="323.70" stroke="#000" stroke-width="1.3"/>
<text x="608.50" y="327.80" font-size="9.3" text-anchor="start" font-weight="bold" fill="#000">100</text>
<line x1="605.40" y1="319.60" x2="610.40" y2="318.00" stroke="#000" stroke-width="1.2"/>
<line x1="605.90" y1="320.70" x2="610.90" y2="319.10" stroke="#000" stroke-width="1.2"/>
<text x="630.4" y="323.7" font-size="11.7" font-weight="bold">Pd<tspan font-size="9.5" font-weight="normal" dy="-3.6">δ</tspan><tspan font-size="8.5" dy="0">+</tspan></text>
<text x="663.40" y="323.70" font-size="11.7" text-anchor="start" font-weight="bold" fill="#000">(%)</text>
<text x="513.10" y="360.70" font-size="12.5" text-anchor="middle" font-weight="bold" fill="#000">W (nm/nm)</text>
<text x="446.3" y="241.4" font-size="12.1" font-weight="bold" text-anchor="middle" transform="rotate(-90 446.3 241.4)"><tspan font-weight="normal">Δ</tspan>Conversion (%)</text>
<rect x="470.70" y="190.40" width="19.10" height="9.00" fill="#3d6351"/>
<rect x="470.70" y="202.30" width="19.10" height="9.00" fill="#74b396"/>
<rect x="470.70" y="215.20" width="19.10" height="9.00" fill="#ecd68c"/>
<rect x="470.70" y="228.00" width="19.10" height="9.00" fill="#c0c0c0"/>
<polygon points="480.40,241.90 481.33,244.13 483.73,244.32 481.90,245.89 482.46,248.23 480.40,246.97 478.34,248.23 478.90,245.89 477.07,244.32 479.47,244.13" fill="#2f8aa8"/>
<text transform="translate(491.9 198.2) scale(1 1.1)" font-size="6.6" font-weight="bold" fill="#1a1a1a">Pd/CeO<tspan font-size="4.1" dy="1.8">2</tspan><tspan dy="-1.8">-500</tspan></text>
<text transform="translate(491.9 209.6) scale(1 1.1)" font-size="6.6" font-weight="bold" fill="#1a1a1a">Pd<tspan font-size="4.1" dy="1.8">NP-3.7</tspan><tspan dy="-1.8">/CeO</tspan><tspan font-size="4.1" dy="1.8">2</tspan><tspan dy="-1.8">-500</tspan></text>
<text transform="translate(491.9 221.6) scale(1 1.1)" font-size="6.6" font-weight="bold" fill="#1a1a1a">Pd/CeO<tspan font-size="4.1" dy="1.8">2</tspan><tspan dy="-1.8"></tspan></text>
<text transform="translate(491.9 234.0) scale(1 1.1)" font-size="6.6" font-weight="bold" fill="#1a1a1a">Pd<tspan font-size="4.1" dy="1.8">NP-3.7</tspan><tspan dy="-1.8">/CeO</tspan><tspan font-size="4.1" dy="1.8">2</tspan><tspan dy="-1.8"></tspan></text>
<text x="491.90" y="248.50" font-size="6.6" text-anchor="start" font-weight="bold" fill="#000">Catalysts (Aft. Reuse)</text>
<text transform="translate(427.50 194.20) scale(1 1.1)" font-size="15.5" text-anchor="start" font-weight="bold" fill="#000">f</text>
</svg>
</body></html>
